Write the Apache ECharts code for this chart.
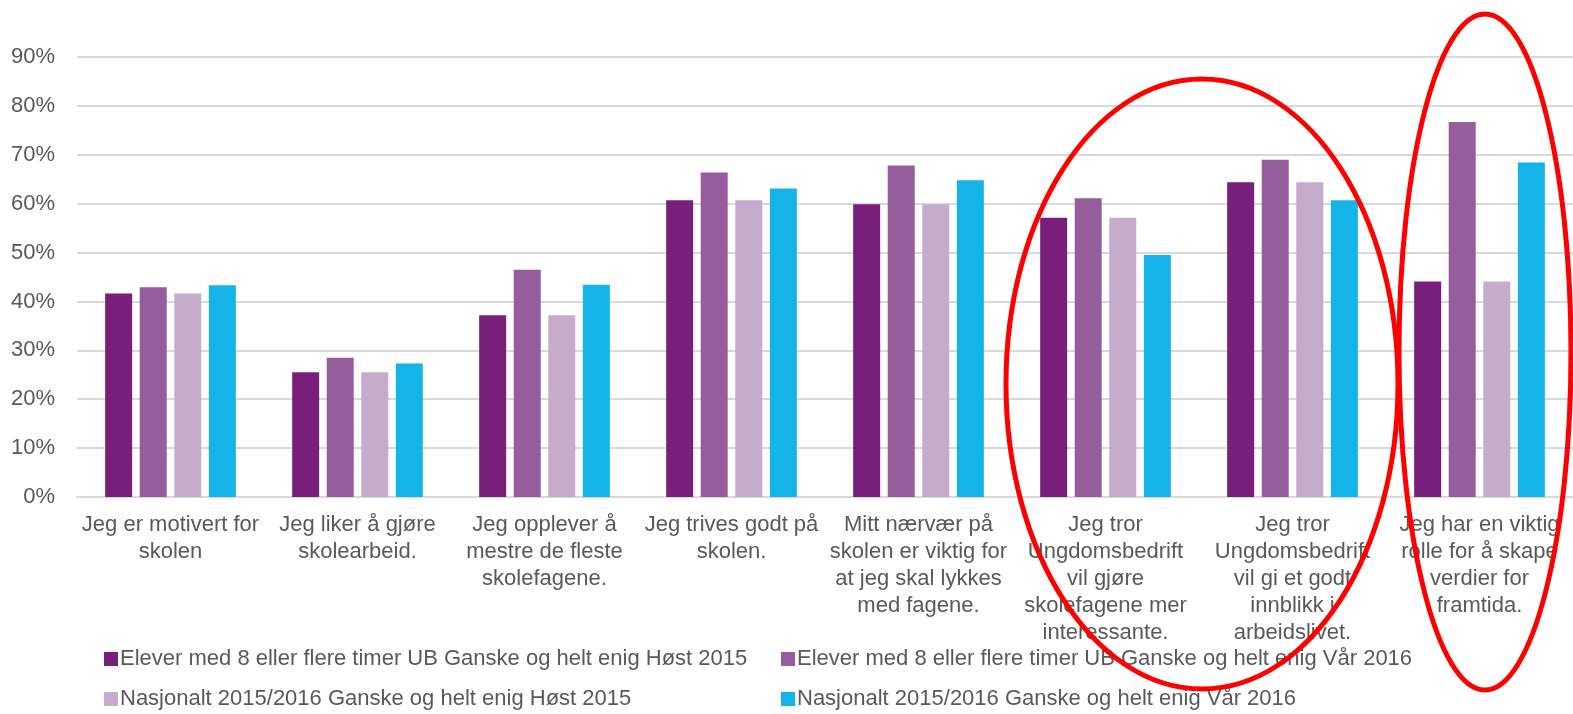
<!DOCTYPE html>
<html>
<head>
<meta charset="utf-8">
<script src="https://cdn.jsdelivr.net/npm/echarts@6/dist/echarts.min.js"></script>
<style>
  html, body { margin: 0; padding: 0; background: #fff; }
  #main { width: 1573px; height: 714px; }
</style>
</head>
<body>
<div id="main"></div>
<script>
    // kategorier (tekstlinjer som i originalen)
    var categories = [
        'Jeg er motivert for\nskolen',
        'Jeg liker å gjøre\nskolearbeid.',
        'Jeg opplever å\nmestre de fleste\nskolefagene.',
        'Jeg trives godt på\nskolen.',
        'Mitt nærvær på\nskolen er viktig for\nat jeg skal lykkes\nmed fagene.',
        'Jeg tror\nUngdomsbedrift\nvil gjøre\nskolefagene mer\ninteressante.',
        'Jeg tror\nUngdomsbedrift\nvil gi et godt\ninnblikk i\narbeidslivet.',
        'Jeg har en viktig\nrolle for å skape\nverdier for\nframtida.'
    ];

    var seriesNames = [
        'Elever med 8 eller flere timer UB Ganske og helt enig Høst 2015',
        'Elever med 8 eller flere timer UB Ganske og helt enig Vår 2016',
        'Nasjonalt 2015/2016 Ganske og helt enig Høst 2015',
        'Nasjonalt 2015/2016 Ganske og helt enig Vår 2016'
    ];

    var elevHost2015 = [0.416, 0.255, 0.372, 0.607, 0.599, 0.571, 0.644, 0.441];
    var elevVar2016  = [0.429, 0.285, 0.465, 0.664, 0.678, 0.611, 0.690, 0.767];
    var nasjHost2015 = [0.416, 0.255, 0.372, 0.607, 0.599, 0.571, 0.644, 0.441];
    var nasjVar2016  = [0.433, 0.273, 0.434, 0.631, 0.648, 0.495, 0.607, 0.684];

    var colors = ['#7a1e7c', '#955d9c', '#c5abcc', '#15b4e8'];

    // legendens plassering: to rader, to kolonner
    var legendLeft = [104, 781, 104, 781];
    var legendTop = [648, 648, 688, 688];

    var chartDom = document.getElementById('main');
    var myChart = echarts.init(chartDom);

    var font = 'Liberation Sans, Arial, sans-serif';

    function bar(name, data, i) {
        return {
            name: name,
            type: 'bar',
            data: data,
            barWidth: 27,
            barGap: '28%',
            itemStyle: { color: colors[i] }
        };
    }

    var legends = seriesNames.map(function (name, i) {
        return {
            data: [name],
            left: legendLeft[i],
            top: legendTop[i],
            padding: 0,
            icon: 'rect',
            itemWidth: 14,
            itemHeight: 14,
            textStyle: { color: '#595959', fontSize: 22, padding: [0, 0, 0, -3] }
        };
    });

    var option = {
        animation: false,
        textStyle: { fontFamily: font },
        grid: { left: 77, right: 0, top: 57, bottom: 217 },
        xAxis: {
            type: 'category',
            data: categories,
            axisTick: { show: false },
            axisLine: { lineStyle: { color: '#d9d9d9', width: 2 } },
            axisLabel: {
                interval: 0,
                color: '#595959',
                fontSize: 22,
                lineHeight: 27,
                margin: 14,
                fontFamily: font
            }
        },
        yAxis: {
            type: 'value',
            min: 0,
            max: 0.9,
            interval: 0.1,
            axisLine: { show: false },
            axisTick: { show: false },
            splitLine: { lineStyle: { color: '#d9d9d9', width: 2 } },
            axisLabel: {
                color: '#595959',
                fontSize: 22,
                margin: 22,
                fontFamily: font,
                formatter: function (v) { return Math.round(v * 100) + '%'; }
            }
        },
        legend: legends,
        series: [
            bar(seriesNames[0], elevHost2015, 0),
            bar(seriesNames[1], elevVar2016, 1),
            bar(seriesNames[2], nasjHost2015, 2),
            bar(seriesNames[3], nasjVar2016, 3)
        ],
        // røde markeringer
        graphic: {
            elements: [{
                type: 'ellipse',
                shape: { cx: 1202, cy: 384, rx: 196, ry: 305 },
                style: { fill: 'none', stroke: '#ff0000', lineWidth: 5 },
                z: 100
            }, {
                type: 'ellipse',
                shape: { cx: 1485, cy: 352, rx: 86, ry: 338 },
                style: { fill: 'none', stroke: '#ff0000', lineWidth: 5 },
                z: 100
            }]
        }
    };

    myChart.setOption(option);
</script>
</body>
</html>
